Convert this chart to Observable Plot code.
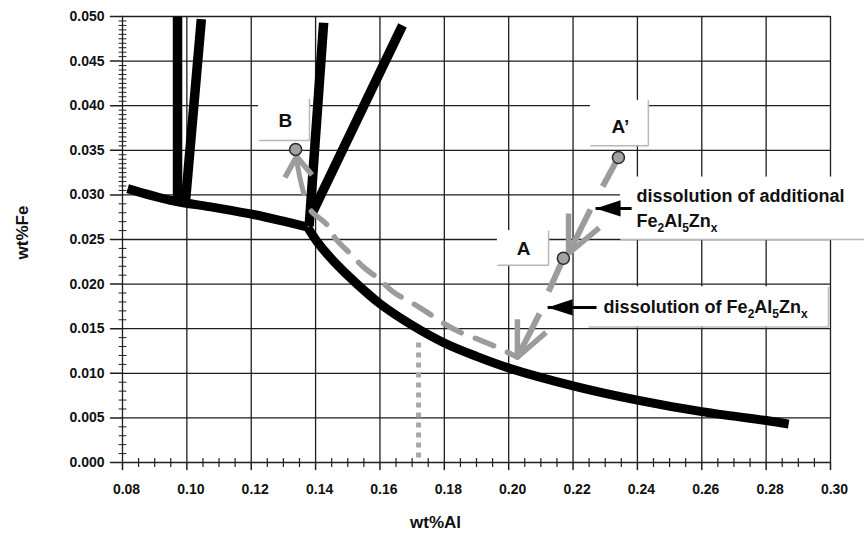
<!DOCTYPE html>
<html><head><meta charset="utf-8">
<script src="https://cdn.jsdelivr.net/npm/d3@7"></script>
<script src="https://cdn.jsdelivr.net/npm/@observablehq/plot@0.6"></script>
<style>body{margin:0;background:#fff;}</style>
</head><body><div id="chart"></div>
<script>
// ---- tick values ----
const xTicks = [0.08,0.10,0.12,0.14,0.16,0.18,0.20,0.22,0.24,0.26,0.28,0.30];
const yTicks = [0,0.005,0.010,0.015,0.020,0.025,0.030,0.035,0.040,0.045,0.050];
const xMinor = [0.085,0.09,0.095,0.105,0.11,0.115,0.125,0.13,0.135,0.145,0.15,0.155,0.165,0.17,0.175,
                0.185,0.19,0.195,0.205,0.21,0.215,0.225,0.23,0.235,0.245,0.25,0.255,0.265,0.27,0.275,0.285,0.29,0.295];
const yMinor = [0.001,0.002,0.003,0.004,0.006,0.007,0.008,0.009,0.011,0.012,0.013,0.014,0.016,0.017,0.018,0.019,
                0.021,0.022,0.023,0.024,0.026,0.027,0.028,0.029,
                0.0305,0.031,0.0315,0.032,0.0325,0.033,0.0335,0.034,0.0345,
                0.0355,0.036,0.0365,0.037,0.0375,0.038,0.0385,0.039,0.0395,
                0.0405,0.041,0.0415,0.042,0.0425,0.043,0.0435,0.044,0.0445,
                0.0455,0.046,0.0465,0.047,0.0475,0.048,0.0485,0.049,0.0495];

// ---- phase boundaries [wt%Al, wt%Fe] ----
const liquidusLeft = [[0.0816,0.0307],[0.0949,0.0294],[0.1083,0.0286],[0.1207,0.0278],[0.1306,0.0270],[0.1375,0.0264]];
const liquidusRight = [[0.1375,0.0264],[0.1412,0.0244],[0.1458,0.0225],[0.1520,0.0203],[0.1600,0.0178],[0.1704,0.0153],
                       [0.1800,0.0134],[0.1900,0.0119],[0.2000,0.0106],[0.2200,0.0086],[0.2400,0.0070],[0.2600,0.0057],
                       [0.2800,0.0047],[0.2870,0.0043]];
const boundary1 = [[0.0971,0.0500],[0.0971,0.0294]];
const boundary2 = [[0.1045,0.0497],[0.0996,0.0294]];
const boundary3 = [[0.1425,0.0493],[0.1380,0.0265]];
const boundary4 = [[0.1670,0.0490],[0.1390,0.0280]];

// dotted vertical
const dottedAl = 0.172, dottedFrom = 0.0005, dottedTo = 0.0137;

// ---- gray path / arrows ----
const returnPath = [[0.1369,0.0297],[0.1384,0.0283],[0.1437,0.0266],[0.1462,0.0251],[0.1508,0.0234],[0.1549,0.0219],
                    [0.1596,0.0206],[0.1642,0.0191],[0.1704,0.0178],[0.1748,0.0168],[0.1798,0.0156],[0.1850,0.0146],
                    [0.1912,0.0137],[0.1965,0.0129],[0.2027,0.0118]];
const shaftB = [[0.1363,0.0302],[0.1352,0.0318],[0.1344,0.0333],[0.1341,0.0343]];
const graySegments = [
  {x1:0.2341,y1:0.0342,x2:0.2292,y2:0.03094},
  {x1:0.2254,y1:0.02836,x2:0.2186,y2:0.02343},
  {x1:0.2170,y1:0.0229,x2:0.2124,y2:0.01917},
  {x1:0.2096,y1:0.0167,x2:0.2027,y2:0.0118}
];
const arrowTips = [
  {al:0.2186, fe:0.02343, arms:[0,50], len:40},
  {al:0.2027, fe:0.0118, arms:[0,49], len:38},
  {al:0.1341, fe:0.0343, arms:[140,209], len:24}
];

const points = [{name:"A’", al:0.2341, fe:0.0342},{name:"A", al:0.2170, fe:0.0229},{name:"B", al:0.1338, fe:0.0351}];
const pointLabels = [{text:"B", al:0.1306, fe:0.0383},{text:"A’", al:0.2347, fe:0.0376},{text:"A", al:0.2046, fe:0.0240}];

const labelBoxes = [
  {x1:0.1223, x2:0.1381, y1:0.0361, y2:0.0408},
  {x1:0.2254, x2:0.2434, y1:0.0355, y2:0.0406},
  {x1:0.1965, x2:0.2124, y1:0.0221, y2:0.0260},
  {x1:0.2347, x2:0.3106, y1:0.0250, y2:0.0320},
  {x1:0.2248, x2:0.2994, y1:0.0152, y2:0.0197}
];
const notes = [
  {text:"dissolution of additional", al:0.2397, fe:0.0299},
  {text:"Fe2Al5Znx", al:0.2397, fe:0.0271},
  {text:"dissolution of Fe2Al5Znx", al:0.2295, fe:0.01738}
];
const callouts = [{tip:0.2270, tail:0.2382, fe:0.02848},{tip:0.2121, tail:0.2273, fe:0.01738}];

// ---- shapes ----
const seg = {draw(ctx, l){ ctx.moveTo(0,0); ctx.lineTo(0,-l); }};
const leftTri = {draw(ctx, size){ const r = Math.sqrt(size/Math.PI); ctx.moveTo(0,0); ctx.lineTo(2*r,-0.65*r); ctx.lineTo(2*r,0.65*r); ctx.closePath(); }};

const GRAY = "#9c9c9c";
const INK = "#1e1e1e";
const lineOpts = {x: d=>d[0], y: d=>d[1], stroke:"black", strokeWidth:9.5, strokeLinecap:"butt"};

const armMarks = arrowTips.map(t =>
  Plot.vector(t.arms, {x:()=>t.al, y:()=>t.fe, rotate:d=>d, length:t.len, anchor:"start", shape:seg,
                       stroke:GRAY, strokeWidth:5.5, strokeLinecap:"butt"}));

const chart = Plot.plot({
  width:864, height:536, marginLeft:122, marginRight:34, marginTop:16, marginBottom:74,
  x:{domain:[0.08,0.30], axis:null},
  y:{domain:[0,0.05], axis:null},
  style:{fontFamily:"'Liberation Sans', Arial, sans-serif", fontWeight:"bold", background:"white", overflow:"visible", color:"#111"},
  marks:[
    Plot.gridX(xTicks, {stroke:INK, strokeOpacity:1, strokeWidth:1.3}),
    Plot.gridY(yTicks, {stroke:INK, strokeOpacity:1, strokeWidth:1.3}),
    Plot.rect(labelBoxes, {x1:"x1", x2:"x2", y1:"y1", y2:"y2", fill:"white"}),
    Plot.link(labelBoxes, {x1:"x1", x2:"x2", y1:"y1", y2:"y1", stroke:"#b8b8b8", strokeWidth:1.5}),
    Plot.link(labelBoxes, {filter: d => d.x2 <= 0.3, x1:"x2", x2:"x2", y1:"y1", y2:"y2", stroke:"#b8b8b8", strokeWidth:1.5}),
    Plot.line(liquidusLeft, {...lineOpts, curve:"catmull-rom", strokeWidth:9}),
    Plot.line(liquidusRight, {...lineOpts, curve:"catmull-rom", strokeWidth:9}),
    Plot.line(boundary1, lineOpts),
    Plot.line(boundary2, lineOpts),
    Plot.line(boundary3, lineOpts),
    Plot.line(boundary4, lineOpts),
    Plot.ruleX([dottedAl], {y1:dottedFrom, y2:dottedTo, stroke:"#a8a8a8", strokeWidth:5, strokeDasharray:"5,5"}),
    Plot.line(returnPath, {x:d=>d[0], y:d=>d[1], stroke:GRAY, strokeWidth:5.5, strokeDasharray:"20,15", strokeDashoffset:20, curve:"catmull-rom"}),
    Plot.line(shaftB, {x:d=>d[0], y:d=>d[1], stroke:GRAY, strokeWidth:5, curve:"catmull-rom"}),
    Plot.link(graySegments, {x1:"x1", y1:"y1", x2:"x2", y2:"y2", stroke:GRAY, strokeWidth:6}),
    ...armMarks,
    Plot.dot(points, {x:"al", y:"fe", r:6, fill:"#a2a2a2", stroke:"#2a2a2a", strokeWidth:1.5}),
    Plot.link(callouts, {x1:"tip", x2:"tail", y1:"fe", y2:"fe", stroke:"black", strokeWidth:3}),
    Plot.dot(callouts, {x:"tip", y:"fe", symbol:leftTri, r:12.5, fill:"black", stroke:"none"}),
    Plot.text(pointLabels, {x:"al", y:"fe", text:"text", fontSize:19, fontWeight:"bold", fill:"#111"}),
    Plot.text(notes, {x:"al", y:"fe", text:"text", textAnchor:"start", fontSize:18, fontWeight:"bold", fill:"#111"}),
    // axes: major & minor ticks
    Plot.vector(xTicks, {x:d=>d, y:0, rotate:180, length:7, anchor:"start", shape:seg, stroke:INK, strokeWidth:1.5}),
    Plot.vector(xMinor, {x:d=>d, y:0, rotate:0, length:8, anchor:"middle", shape:seg, stroke:INK, strokeWidth:1.2}),
    Plot.vector(yTicks, {x:0.08, y:d=>d, rotate:270, length:12, anchor:"start", shape:seg, stroke:INK, strokeWidth:1.5}),
    Plot.vector(yMinor, {x:0.08, y:d=>d, rotate:90, length:7, anchor:"middle", shape:seg, stroke:INK, strokeWidth:1}),
    Plot.text(xTicks, {x:d=>d, frameAnchor:"bottom", dy:31, dx:4, text:d=>d.toFixed(2), fontSize:14, fontWeight:"bold", fill:"#111"}),
    Plot.text(yTicks, {y:d=>d, frameAnchor:"left", dx:-18, textAnchor:"end", text:d=>d.toFixed(3), fontSize:14, fontWeight:"bold", fill:"#111"}),
    Plot.text(["wt%Al"], {frameAnchor:"bottom", dy:65, dx:-41, text:d=>d, fontSize:17, fontWeight:"bold", fill:"#111"}),
    Plot.text(["wt%Fe"], {frameAnchor:"left", rotate:-90, dx:-100, dy:20, text:d=>d, fontSize:17, fontWeight:"bold", fill:"#111"})
  ]
});

// chemical subscripts
const NS = "http://www.w3.org/2000/svg";
chart.querySelectorAll("text").forEach(t => {
  const s = t.textContent;
  const i = s.indexOf("Fe2Al5Znx");
  if (i < 0) return;
  const parts = [[s.slice(0,i),0],["Fe",0],["2",1],["Al",0],["5",1],["Zn",0],["x",1]];
  while (t.firstChild) t.removeChild(t.firstChild);
  let prevSub = 0;
  for (const [txt, sub] of parts) {
    if (!txt) continue;
    const ts = document.createElementNS(NS, "tspan");
    ts.textContent = txt;
    if (sub && !prevSub) ts.setAttribute("dy", "5");
    if (!sub && prevSub) ts.setAttribute("dy", "-5");
    if (sub) ts.setAttribute("font-size", "12");
    t.appendChild(ts);
    prevSub = sub;
  }
});

document.getElementById("chart").appendChild(chart);
</script>
</body></html>
